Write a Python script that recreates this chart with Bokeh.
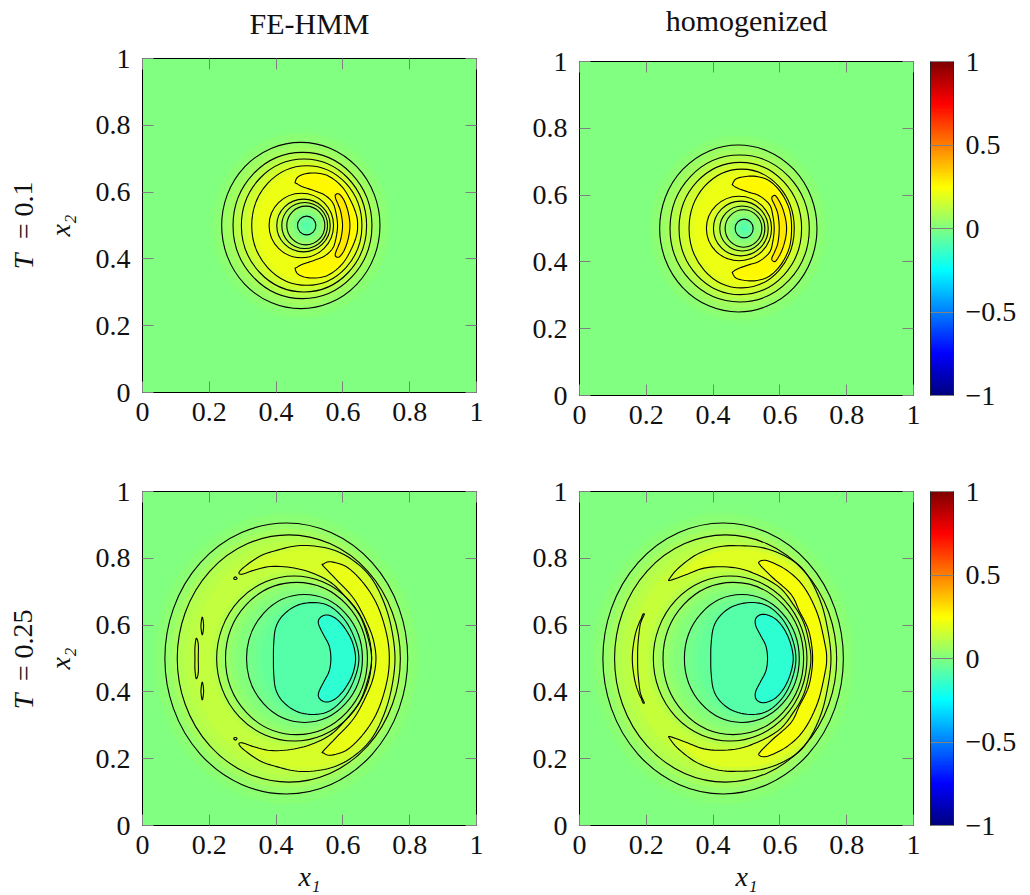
from math import pi
from bokeh.embed import file_html
from bokeh.resources import INLINE
from bokeh.plotting import figure
from bokeh.layouts import column, row
from bokeh.core.properties import value
from bokeh.models import LinearColorMapper, ColorBar, FixedTicker, LinearAxis, ColumnDataSource
from bokeh.transform import transform
import numpy as np

# ---------- tick labels ----------
TICKS = [0, 0.2, 0.4, 0.6, 0.8, 1]
TICK_LABELS = ["0", "0.2", "0.4", "0.6", "0.8", "1"]
CB_TICKS = [-1, -0.5, 0, 0.5, 1]
CB_LABELS = ["\u22121", "\u22120.5", "0", "0.5", "1"]

# ---------- colormap (value, r, g, b) ----------
JET_V = [-1, -0.75, -0.25, 0.25, 0.75, 1]
JET_R = [0, 0, 0, 1, 1, 0.5]
JET_G = [0, 0, 1, 1, 0, 0]
JET_B = [0.5, 1, 1, 0, 0, 0]

# ---------- shading: (centre x, width, height, value) ----------
TL_OUTER = [(.474,.560,.584,.006),(.474,.530,.554,.016),(.474,.504,.528,.030),(.474,.474,.498,.050),
            (.476,.445,.468,.068),(.479,.416,.438,.095),(.481,.396,.418,.120),(.4835,.375,.398,.145),
            (.487,.352,.378,.170),(.492,.330,.358,.195),(.494,.300,.330,.215)]
TL_INNER = [(.4755,.193,.193,.195),(.479,.176,.176,.17),(.482,.160,.158,.145),(.484,.148,.148,.12),
            (.4855,.137,.138,.095),(.487,.125,.127,.07),(.489,.114,.116,.045),(.490,.095,.097,.02),
            (.491,.075,.077,-.01),(.4915,.055,.056,-.045),(.4915,.035,.036,-.07),(.4915,.018,.018,-.085)]
TR_OUTER = [(.4755,.557,.586,.006),(.4755,.527,.556,.016),(.4755,.501,.530,.03),(.4755,.471,.5,.05),
            (.4775,.444,.470,.068),(.4795,.417,.44,.095),(.4805,.392,.418,.12),(.4815,.367,.396,.145),
            (.4835,.341,.376,.17),(.4855,.315,.356,.195),(.4875,.285,.328,.215)]
TR_INNER = [(.4775,.195,.193,.195),(.480,.179,.178,.17),(.483,.164,.164,.145),(.485,.15,.15,.12),
            (.4875,.135,.135,.095),(.489,.122,.123,.07),(.491,.11,.112,.045),(.492,.09,.092,.02),
            (.4925,.07,.072,-.01),(.493,.054,.056,-.045),(.493,.034,.036,-.07),(.493,.018,.018,-.09)]
BL_OUTER = [(.4305,.827,.911,.006),(.4305,.787,.871,.016),(.4305,.755,.839,.03),(.4305,.727,.811,.045),
            (.4345,.697,.775,.07),(.438,.668,.74,.095),(.442,.63,.70,.115),(.447,.59,.66,.13),
            (.455,.51,.54,.125),(.454,.49,.52,.105)]
BL_INNER = [(.454,.464,.494,.08),(.4575,.445,.475,.06),(.461,.425,.456,.045),(.466,.405,.436,.03),
            (.472,.385,.415,.015),(.478,.365,.398,0),(.485,.347,.383,-.02),(.495,.32,.36,-.035),
            (.505,.30,.345,-.05)]
BR_OUTER = [(.43,.82,.911,.006),(.43,.78,.871,.016),(.43,.748,.839,.03),(.43,.72,.811,.045),
            (.434,.692,.775,.07),(.4375,.665,.74,.095),(.441,.63,.70,.115),(.446,.59,.66,.135),
            (.452,.51,.54,.125),(.451,.486,.52,.105)]
BR_INNER = [(.451,.46,.494,.08),(.4555,.44,.475,.06),(.4605,.421,.456,.045),(.466,.401,.436,.03),
            (.472,.381,.415,.015),(.479,.362,.398,0),(.486,.344,.383,-.02),(.495,.32,.36,-.035),
            (.505,.30,.345,-.05)]

# ---------- contours that are nearly elliptical: (centre x, width, height) ----------
TL_RINGS = [(.474,.474,.498),(.479,.416,.438),(.4835,.375,.398),(.492,.330,.358),
            (.4755,.193,.193),(.482,.160,.158),(.4855,.137,.138),(.489,.114,.116),(.4915,.055,.056)]
TR_RINGS = [(.4755,.471,.5),(.4795,.417,.44),(.4815,.367,.396),(.4855,.315,.356),
            (.4775,.195,.193),(.483,.164,.164),(.4875,.135,.135),(.491,.11,.112),(.493,.054,.056)]
BL_RINGS = [(.4305,.727,.811),(.438,.668,.74),(.454,.464,.494),(.461,.425,.456),(.485,.347,.383)]
BR_RINGS = [(.43,.72,.811),(.4375,.665,.74),(.451,.46,.494),(.4605,.421,.456),(.486,.344,.383)]

# ---------- other contours: upper half, axis to axis (x, y) ----------
TL_C1 = [(.584,.5),(.579,.539),(.569,.569),(.544,.592),(.509,.606),(.479,.616),(.461,.626),(.457,.629),
         (.464,.644),(.484,.654),(.519,.657),(.559,.647),(.599,.614),(.626,.569),(.641,.529),(.644,.5)]
TL_C2 = [(.599,.5),(.594,.539),(.586,.562),(.578,.582),(.578,.592),(.589,.594),(.604,.574),(.616,.539),(.621,.5)]
TR_C1 = [(.583,.5),(.578,.543),(.568,.573),(.538,.598),(.503,.61),(.473,.621),(.459,.63),(.458,.633),
         (.468,.648),(.493,.655),(.528,.656),(.568,.643),(.603,.608),(.628,.558),(.635,.5)]
TR_C2 = [(.598,.5),(.594,.543),(.585,.568),(.576,.588),(.578,.596),(.588,.597),(.605,.568),(.616,.533),(.62,.5)]

BL_C1 = [(.686,.5),(.679,.5475),(.654,.6225),(.614,.6775),(.564,.7275),(.504,.7575),(.444,.7725),(.384,.7755),
         (.334,.7645),(.299,.7525),(.289,.7575),(.309,.7775),(.354,.8075),(.404,.8245),(.464,.8375),(.524,.8355),
         (.584,.8205),(.639,.7875),(.684,.7425),(.719,.6775),(.744,.5975),(.756,.5)]
BL_C2 = [(.699,.5),(.692,.5525),(.674,.6025),(.634,.6775),(.579,.7375),(.541,.7775),(.541,.7825),(.564,.7895),
         (.614,.7725),(.664,.7225),(.704,.6575),(.731,.5725),(.739,.5)]
BL_LEFT = [(.167,.5),(.167,.5425),(.161,.5605),(.157,.5325),(.157,.5)]
BL_ISLE1 = [(.179,.6245),(.183,.5975),(.179,.5705),(.175,.5975)]
BL_ISLE2 = [(.273,.7395),(.278,.7445),(.283,.7395),(.278,.7365)]
BL_CORE = [(.392,.5),(.393,.5475),(.399,.5925),(.419,.6275),(.459,.6575),(.509,.6675),(.559,.6575),
           (.604,.6175),(.634,.5625),(.648,.5)]
BL_D = [(.564,.5),(.559,.5375),(.544,.5675),(.529,.5975),(.527,.6145),(.539,.6275),(.559,.6295),(.584,.6155),
        (.608,.5875),(.629,.5475),(.638,.5)]

BR_C1 = [(.693,.5),(.688,.5425),(.673,.6025),(.643,.6575),(.593,.7175),(.503,.7625),(.433,.7745),(.373,.7705),
         (.323,.7525),(.273,.7345),(.27,.7395),(.298,.7725),(.353,.8125),(.418,.8345),(.483,.8375),(.553,.8305),
         (.623,.8025),(.673,.7625),(.713,.6925),(.738,.6125),(.753,.5)]
BR_C2 = [(.698,.5),(.694,.5475),(.683,.5925),(.658,.6425),(.633,.6925),(.578,.7425),(.543,.7775),(.538,.7895),
         (.563,.7925),(.623,.7625),(.673,.7125),(.713,.6325),(.735,.5425),(.74,.5)]
BR_LEFT = [(.174,.5),(.175,.5425),(.181,.5975),(.186,.6145),(.181,.6125),(.166,.5675),(.158,.5)]
BR_ISLE1 = [(.187,.6175),(.194,.6325),(.19,.6325),(.185,.6195)]
BR_CORE = [(.393,.5),(.394,.5425),(.401,.5925),(.421,.6275),(.458,.6555),(.511,.6675),(.563,.6575),
           (.608,.6175),(.636,.5625),(.648,.5)]
BR_D = [(.563,.5),(.558,.5375),(.543,.5675),(.528,.5975),(.527,.6175),(.538,.6295),(.558,.6315),(.588,.6175),
        (.613,.5875),(.631,.5475),(.64,.5)]

# ---------- extra shading inside the crescents (no contour drawn) ----------
TL_C1B = [(.584,.5),(.579,.539),(.569,.569),(.544,.592),(.509,.606),(.479,.616),(.47,.626),(.486,.644),(.519,.647),
          (.555,.637),(.592,.607),(.617,.565),(.632,.527),(.635,.5)]
TR_C1B = [(.583,.5),(.578,.543),(.568,.573),(.538,.598),(.503,.61),(.473,.621),(.47,.632),(.493,.645),(.528,.646),
          (.563,.633),(.596,.602),(.619,.555),(.626,.5)]
BL_C1B = [(.686,.5),(.679,.5475),(.654,.6225),(.614,.6775),(.564,.7275),(.504,.7575),(.444,.7725),(.384,.7755),
          (.334,.7645),(.31,.7625),(.33,.772),(.36,.793),(.407,.8115),(.464,.825),(.522,.823),(.578,.809),(.63,.778),
          (.674,.735),(.707,.672),(.732,.593),(.744,.5)]
BR_C1B = [(.693,.5),(.688,.5425),(.673,.6025),(.643,.6575),(.593,.7175),(.503,.7625),(.433,.7745),(.373,.7705),
          (.323,.7525),(.293,.745),(.31,.762),(.358,.8),(.42,.822),(.483,.825),(.55,.818),(.617,.79),(.664,.753),
          (.703,.686),(.727,.608),(.741,.5)]

FONT = "Liberation Serif"
INK = "#111111"
GRID = np.linspace(-1, 1, 256)
PALETTE = ["#%02x%02x%02x" % tuple(int(round(255 * np.interp(v, JET_V, c))) for c in (JET_R, JET_G, JET_B))
           for v in GRID]
mapper = LinearColorMapper(palette=PALETTE, low=-1, high=1)


def curve(xs, ys, steps=6):
    """Draw a closed smooth curve through the read points."""
    p = np.array([xs, ys], dtype=float).T
    n = len(p)
    out = []
    for i in range(n):
        a, b, c, d = p[(i - 1) % n], p[i], p[(i + 1) % n], p[(i + 2) % n]
        for t in np.arange(steps) / steps:
            out.append(0.5 * (2 * b + (c - a) * t + (2 * a - 5 * b + 4 * c - d) * t ** 2
                              + (3 * b - a - 3 * c + d) * t ** 3))
    out = np.array(out)
    return out[:, 0].tolist(), out[:, 1].tolist()


def closed(path):
    xs = [a for a, _ in path]
    ys = [b for _, b in path]
    return curve(xs + xs[-2:0:-1], ys + [1 - b for b in ys[-2:0:-1]])


def twin(path):
    xs = [a for a, _ in path]
    ys = [b for _, b in path]
    return [curve(xs, ys), curve(xs, [1 - b for b in ys])]


def fill_ellipses(p, rows):
    cx, w, h, v = zip(*rows)
    src = ColumnDataSource(dict(x=list(cx), y=[0.5] * len(cx), w=list(w), h=list(h), v=list(v)))
    p.ellipse("x", "y", width="w", height="h", source=src, fill_color=transform("v", mapper), line_color=None)


def fill_patches(p, shapes, values):
    if not shapes:
        return
    src = ColumnDataSource(dict(xs=[s[0] for s in shapes], ys=[s[1] for s in shapes], v=values))
    p.patches("xs", "ys", source=src, fill_color=transform("v", mapper), line_color=None)


def make_panel(outer, inner, rings, crescents, crescent_v, shade, shade_v, cores, core_v, isles, title, title_off,
               top, bottom, left, right, xlabel, right_pad):
    p = figure(width=left + 334 + right, height=top + 334 + bottom, x_range=(0, 1), y_range=(0, 1),
               output_backend="svg", toolbar_location=None, min_border_left=left, min_border_right=right,
               min_border_top=top, min_border_bottom=bottom, background_fill_color="#80ff80",
               outline_line_color="#000000", outline_line_width=1)
    p.grid.visible = False

    overrides = {t: s for t, s in zip(TICKS, TICK_LABELS)}
    for ax in (p.xaxis[0], p.yaxis[0]):
        ax.ticker = FixedTicker(ticks=TICKS)
        ax.major_label_overrides = overrides
        ax.major_label_text_font = FONT
        ax.major_label_text_font_size = "28px"
        ax.major_label_text_color = INK
        ax.major_tick_in = 11
        ax.major_tick_out = 0
        ax.major_tick_line_color = "#808080"
        ax.minor_tick_line_color = None
        ax.axis_line_color = None
        ax.axis_label_text_font = FONT
        ax.axis_label_text_font_size = "28px"
        ax.axis_label_text_font_style = "italic"
        ax.axis_label_text_color = INK
    p.xaxis[0].major_label_standoff = 10
    p.yaxis[0].major_label_standoff = 12
    p.xaxis[0].axis_label_standoff = 4
    if xlabel:
        p.xaxis[0].axis_label = xlabel

    blank = {t: "" for t in TICKS}
    for side in ("above", "right"):
        ax = LinearAxis(ticker=FixedTicker(ticks=TICKS), major_label_overrides=blank,
                        major_label_text_font_size="0px", major_label_standoff=0, major_tick_in=11,
                        major_tick_out=0, major_tick_line_color="#808080", minor_tick_line_color=None,
                        axis_line_color=None)
        if side == "above" and title:
            ax.axis_label = title
            ax.axis_label_text_font = FONT
            ax.axis_label_text_font_size = "30px"
            ax.axis_label_text_font_style = "normal"
            ax.axis_label_text_color = INK
            ax.axis_label_standoff = title_off
        if side == "right" and right_pad:
            ax.axis_label = "\u00a0"
            ax.axis_label_text_font_size = "1px"
            ax.axis_label_standoff = right_pad
        p.add_layout(ax, side)

    fill_ellipses(p, outer)
    fill_patches(p, [closed(crescents[0]), closed(shade)] + [closed(c) for c in crescents[1:]],
                 [crescent_v[0], shade_v] + crescent_v[1:])
    fill_ellipses(p, inner)
    fill_patches(p, [closed(c) for c in cores], core_v)

    cx, w, h = zip(*rings)
    p.ellipse(x=list(cx), y=[0.5] * len(cx), width=list(w), height=list(h), fill_color=None,
              line_color="#000000", line_width=1.1)
    lines = [closed(c) for c in crescents + cores]
    for isle in isles:
        lines += twin(isle)
    p.patches([s[0] for s in lines], [s[1] for s in lines], fill_color=None, line_color="#000000", line_width=1.1)
    return p


def strip(height, top, head_y, tail, tail_y):
    """Figure left of a row that carries the rotated time label and the axis name."""
    s = figure(width=90, height=height, x_range=(0, 90), y_range=(-(height - top - 334) / 334, 1 + top / 334),
               output_backend="svg", toolbar_location=None, x_axis_location=None, y_axis_location=None,
               min_border_left=0, min_border_right=0, min_border_top=0, min_border_bottom=0, outline_line_color=None)
    s.grid.visible = False
    common = dict(angle=[pi / 2], text_font=value(FONT), text_font_size="28px", text_color=INK,
                  text_baseline="bottom", text_align="center")
    s.text(x=[38], y=[head_y], text=["T"], text_font_style="italic", **common)
    s.text(x=[38], y=[tail_y], text=[tail], **common)
    s.text(x=[75], y=[0.5], text=["x\u2082"], text_font_style="italic", **common)
    return s


def add_bar(p):
    bar = ColorBar(color_mapper=mapper, width=23, padding=0, margin=0, ticker=FixedTicker(ticks=CB_TICKS),
                   major_label_overrides={t: s for t, s in zip(CB_TICKS, CB_LABELS)},
                   major_label_text_font=FONT, major_label_text_font_size="28px",
                   major_label_text_color=INK, major_tick_in=23, major_tick_out=0,
                   major_tick_line_color="#808080", minor_tick_line_color=None, bar_line_color="#222222",
                   label_standoff=12, title=None)
    p.add_layout(bar, "right")


p1 = make_panel(TL_OUTER, TL_INNER, TL_RINGS, [TL_C1, TL_C2], [.245, .295], TL_C1B, .265, [], [], [],
                "FE-HMM", 19, 58, 56, 52, 30, None, 0)
p2 = make_panel(TR_OUTER, TR_INNER, TR_RINGS, [TR_C1, TR_C2], [.245, .295], TR_C1B, .265, [], [], [],
                "homogenized", 25, 61, 53, 73, 115, None, 13)
p3 = make_panel(BL_OUTER, BL_INNER, BL_RINGS, [BL_C1, BL_C2, BL_LEFT], [.15, .21, .15], BL_C1B, .168,
                [BL_CORE, BL_D], [-.085, -.16], [BL_ISLE1, BL_ISLE2], None, 0,
                43, 69, 52, 30, "x\u2081", 0)
p4 = make_panel(BR_OUTER, BR_INNER, BR_RINGS, [BR_C1, BR_C2, BR_LEFT], [.155, .23, .15], BR_C1B, .18,
                [BR_CORE, BR_D], [-.085, -.16], [BR_ISLE1], None, 0,
                43, 69, 73, 115, "x\u2081", 13)
add_bar(p2)
add_bar(p4)
s1 = strip(448, 58, .392, "= 0.1", .545)
s2 = strip(446, 43, .371, "= 0.25", .539)

page = column(row(column(s1), p1, column(p2), spacing=0),
              row(column(s2), p3, column(p4), spacing=0), spacing=0)
open("out.html", "w").write(file_html(page, INLINE))
